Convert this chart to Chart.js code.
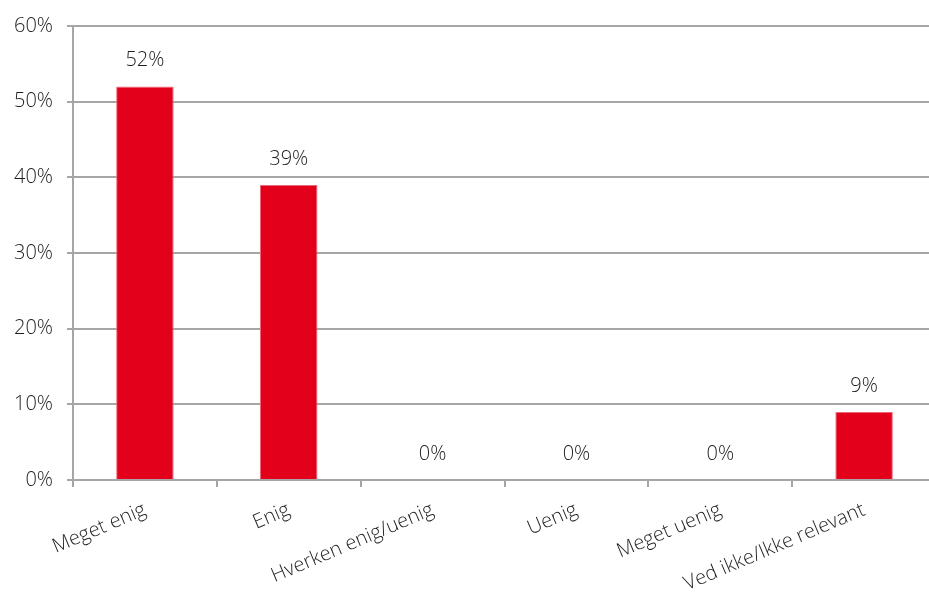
<!DOCTYPE html>
<html>
<head>
<meta charset="utf-8">
<script src="https://cdn.jsdelivr.net/npm/chart.js@4"></script>
<style>
  html, body { margin: 0; padding: 0; background: #fff; overflow: hidden; }
  #wrap { width: 936px; height: 594px; }
</style>
</head>
<body>
<div id="wrap"><canvas id="svar"></canvas></div>
<script>
const kategorier = ['Meget enig', 'Enig', 'Hverken enig/uenig', 'Uenig', 'Meget uenig', 'Ved ikke/Ikke relevant'];
const andele = [52, 39, 0, 0, 0, 9];
const yTicks = [0, 10, 20, 30, 40, 50, 60];

const fontFam = '"Open Sans", sans-serif';

// labels above the bars
const barLabels = {
  id: 'barLabels',
  afterDatasetsDraw(chart) {
    const ctx = chart.ctx;
    const meta = chart.getDatasetMeta(0);
    ctx.save();
    ctx.font = '300 20px ' + fontFam;
    ctx.fillStyle = '#1e1e1e';
    ctx.textAlign = 'center';
    ctx.textBaseline = 'middle';
    meta.data.forEach((bar, i) => {
      ctx.fillText(andele[i] + '%', bar.x, bar.y - 26);
    });
    ctx.restore();
  }
};

const svar = document.getElementById('svar');
new Chart(svar, {
  type: 'bar',
  data: {
    labels: kategorier,
    datasets: [{
      data: andele,
      backgroundColor: '#e3001b',
      borderColor: '#ee6a78',
      borderWidth: 1,
      borderSkipped: 'bottom',
      barPercentage: 0.4,
      categoryPercentage: 1
    }]
  },
  options: {
    responsive: true,
    maintainAspectRatio: false,
    animation: false,
    layout: { padding: { top: 25, right: 0, left: 0, bottom: 0 } },
    plugins: {
      legend: { display: false },
      tooltip: { enabled: false }
    },
    scales: {
      x: {
        grid: {
          offset: true,
          drawOnChartArea: false,
          drawTicks: true,
          tickLength: 7,
          color: '#a6a6a6',
          lineWidth: 2
        },
        border: { display: false },
        ticks: {
          color: '#1e1e1e',
          font: { family: fontFam, size: 20, weight: 300 },
          minRotation: 23,
          maxRotation: 23,
          padding: 11,
          autoSkip: false
        },
        afterFit(scale) { scale.height = 114; }
      },
      y: {
        min: 0,
        max: 60,
        afterBuildTicks(scale) { scale.ticks = yTicks.map(v => ({ value: v })); },
        grid: {
          color: '#a6a6a6',
          lineWidth: 2,
          tickLength: 6
        },
        border: { display: true, color: '#a6a6a6', width: 2 },
        ticks: {
          color: '#1e1e1e',
          font: { family: fontFam, size: 20, weight: 300 },
          padding: 14,
          callback: v => v + '%'
        },
        afterFit(scale) { scale.width = 73; }
      }
    }
  },
  plugins: [barLabels]
});
</script>
</body>
</html>
